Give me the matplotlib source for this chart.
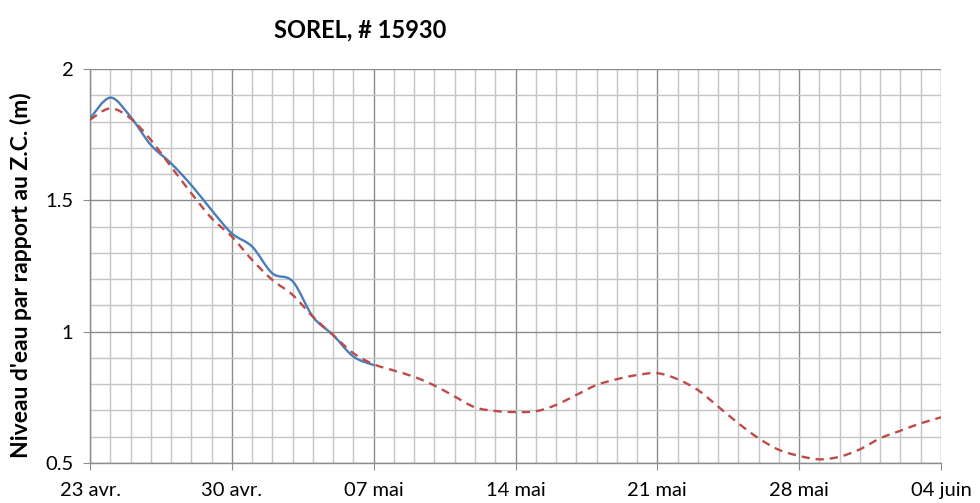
import matplotlib
matplotlib.use("Agg")
import matplotlib.pyplot as plt
from matplotlib.path import Path
from matplotlib.patches import PathPatch
import numpy as np

plt.rcParams['font.family'] = ['Lato', 'DejaVu Sans']

tick_labels = ["23 avr.", "30 avr.", "07 mai", "14 mai", "21 mai", "28 mai", "04 juin"]

obs_days = list(range(0, 15))
obs_vals = [1.812, 1.891, 1.818, 1.711, 1.641, 1.558, 1.463, 1.374, 1.324, 1.222,
            1.192, 1.057, 0.987, 0.905, 0.873]

pred_days = list(range(0, 43))
pred_vals = [1.807, 1.850, 1.812, 1.730, 1.628, 1.527, 1.432, 1.362, 1.273, 1.197,
             1.140, 1.057, 0.987, 0.918, 0.876, 0.852, 0.828, 0.795, 0.753, 0.712,
             0.698, 0.694, 0.697, 0.721, 0.759, 0.797, 0.819, 0.835, 0.842, 0.819,
             0.778, 0.715, 0.651, 0.594, 0.550, 0.527, 0.514, 0.524, 0.552, 0.594,
             0.623, 0.651, 0.674]


def smooth_path(xs, ys):
    """Excel-style smoothed line: Catmull-Rom through the points as cubic Beziers."""
    x = np.asarray(xs, float)
    y = np.asarray(ys, float)
    n = len(x)
    verts = [(x[0], y[0])]
    codes = [Path.MOVETO]
    t = 1.0 / 6.0
    for i in range(n - 1):
        x0, y0 = (x[i - 1], y[i - 1]) if i > 0 else (x[i], y[i])
        x3, y3 = (x[i + 2], y[i + 2]) if i + 2 < n else (x[i + 1], y[i + 1])
        c1 = (x[i] + (x[i + 1] - x0) * t, y[i] + (y[i + 1] - y0) * t)
        c2 = (x[i + 1] - (x3 - x[i]) * t, y[i + 1] - (y3 - y[i]) * t)
        verts += [c1, c2, (x[i + 1], y[i + 1])]
        codes += [Path.CURVE4] * 3
    return Path(verts, codes)


fig = plt.figure(figsize=(9.8, 5.03), dpi=100)
ax = fig.add_axes([90/980, 1-463/503, (941-90)/980, (463-69)/503])

ax.add_patch(PathPatch(smooth_path(obs_days, obs_vals), fill=False,
                       edgecolor='#4a7ebb', lw=1.7, zorder=3, capstyle='round'))
ax.add_patch(PathPatch(smooth_path(pred_days, pred_vals), fill=False,
                       edgecolor='#be4b48', lw=1.7, ls=(0, (3.5, 2.5)), zorder=3))

ax.set_xlim(0, 42)
ax.set_ylim(0.5, 2.0)
ax.set_xticks(np.arange(0, 43, 7))
ax.set_xticklabels(tick_labels)
ax.set_xticks(np.arange(0, 43, 1), minor=True)
ax.set_yticks([0.5, 1.0, 1.5, 2.0])
ax.set_yticklabels(["0.5", "1", "1.5", "2"])
ax.set_yticks(np.arange(0.5, 2.001, 0.1), minor=True)

ax.grid(which='major', color='#8c8c8c', lw=1.0, zorder=1)
ax.grid(which='minor', color='#c4c4c4', lw=1.0, zorder=0)
ax.set_axisbelow(True)
for s in ['top', 'right']:
    ax.spines[s].set_visible(False)
for s in ['left', 'bottom']:
    ax.spines[s].set_color('#8c8c8c')
    ax.spines[s].set_linewidth(1.0)
ax.tick_params(which='major', length=5, color='#8c8c8c', labelsize=14.5)
ax.tick_params(axis='x', which='major', pad=9)
ax.tick_params(axis='y', which='major', pad=7)
ax.tick_params(which='minor', length=0)

ax.set_ylabel("Niveau d'eau par rapport au Z.C. (m)", fontsize=16.5, fontweight='bold')
ax.yaxis.set_label_coords(-(90-32)/851, (463-275)/394)
fig.text(360/980, 1-30/503, "SOREL, # 15930", fontsize=17, fontweight='bold', ha='center', va='center')

fig.savefig("out.png", dpi=100)
